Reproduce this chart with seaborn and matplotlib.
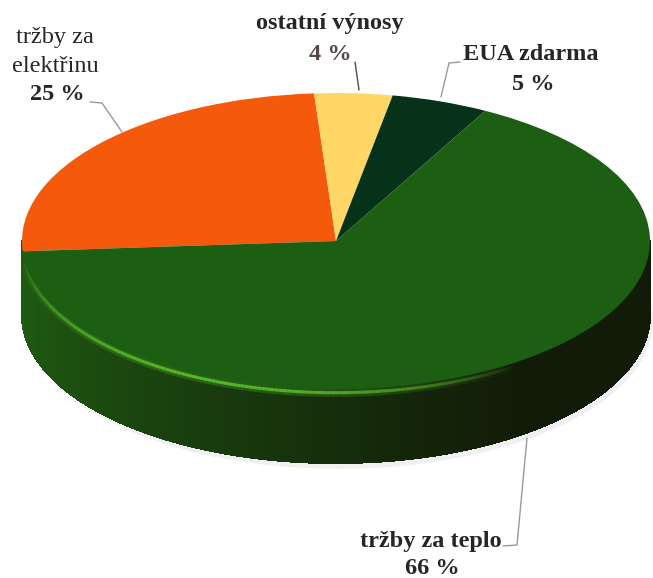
import numpy as np
import matplotlib
matplotlib.use("Agg")
import matplotlib.pyplot as plt
import seaborn as sns
from matplotlib.collections import PolyCollection, LineCollection
from matplotlib.colors import to_rgb
from matplotlib.patches import Ellipse

# data
labels = ["tržby za\nelektřinu", "ostatní výnosy", "EUA zdarma", "tržby za teplo"]
shares = [25, 4, 5, 66]
pct_labels = ["25 %", "4 %", "5 %", "66 %"]
colors = ["#F55A0C", "#FED766", "#06321A", "#1C5F13"]

W, H = 653, 578
cx, cy = 336, 241      # centre of the top face in pixels (from top-left)
rx, ry = 314, 148      # half axes of the top face in pixels
depth = 0.5            # thickness of the disc (in y units)

sns.set_style("white")
plt.rcParams['font.family'] = 'serif'
plt.rcParams['font.serif'] = ['Liberation Serif', 'DejaVu Serif']

fig = plt.figure(figsize=(W / 100, H / 100), dpi=100)
ax = fig.add_axes([0, 0, 1, 1])


def px(x, y):
    return x / W, 1 - y / H


# soft shadow under the disc
ax.add_patch(Ellipse((0.01, -depth - 0.04), 2.0, 2.0, color="#e6e6ee", alpha=0.6, lw=0, zorder=0))

# side wall, shaded from green (left) to almost black (right)
th = np.radians(np.linspace(180, 360, 241))
c_left = np.array(to_rgb("#1F5C12"))
c_right = np.array(to_rgb("#121A08"))
polys, cols = [], []
for t0, t1 in zip(th[:-1], th[1:]):
    polys.append([(np.cos(t0), np.sin(t0)), (np.cos(t1), np.sin(t1)),
                  (np.cos(t1), np.sin(t1) - depth), (np.cos(t0), np.sin(t0) - depth)])
    f = np.clip(((np.cos(t0) + 1) / 2) ** 0.7 * 1.15, 0, 1)
    cols.append(c_left * (1 - f) + c_right * f)
ax.add_collection(PolyCollection(polys, facecolors=cols, edgecolors=cols, linewidths=0.8,
                                 antialiased=False, zorder=1))

# light rim along the front edge
ht = np.radians(np.linspace(186, 305, 150))
hx, hy = np.cos(ht), np.sin(ht) - 0.025
segs = [[(hx[i], hy[i]), (hx[i + 1], hy[i + 1])] for i in range(len(ht) - 1)]
a = np.sin(np.linspace(0, np.pi, len(segs))) ** 0.8
rim = np.array(to_rgb("#56B82A"))
ax.add_collection(LineCollection(segs, colors=[(*rim, v * 0.3) for v in a], linewidths=6, zorder=1.5))
ax.add_collection(LineCollection(segs, colors=[(*rim, v) for v in a], linewidths=2.2, zorder=1.6))

# top face
wedges, _ = ax.pie(shares, colors=colors, startangle=184, counterclock=False,
                   radius=1, center=(0, 0), wedgeprops=dict(linewidth=0))
for w in wedges:
    w.set_zorder(2)

ax.set_aspect('auto')
ax.set_xlim(-cx / rx, (W - cx) / rx)
ax.set_ylim(-(H - cy) / ry, cy / ry)
ax.axis('off')

# labels
dark = "#262626"
fs = 17.5
fig.text(*px(55, 37), "tržby za", ha='center', va='center', fontsize=fs, color=dark,
         family='Liberation Serif')
fig.text(*px(55, 66), "elektřinu", ha='center', va='center', fontsize=fs, color=dark,
         family='Liberation Serif')
fig.text(*px(57, 95), pct_labels[0], ha='center', va='center', fontsize=fs, color=dark, weight='bold')

fig.text(*px(330, 24), labels[1], ha='center', va='center', fontsize=fs, color=dark, weight='bold')
fig.text(*px(330, 55), pct_labels[1], ha='center', va='center', fontsize=fs, color="#5A4747", weight='bold')

fig.text(*px(531, 54), labels[2], ha='center', va='center', fontsize=fs, color=dark, weight='bold')
fig.text(*px(533, 85), pct_labels[2], ha='center', va='center', fontsize=fs, color=dark, weight='bold')

fig.text(*px(431, 541), labels[3], ha='center', va='center', fontsize=fs, color=dark, weight='bold')
fig.text(*px(432, 568), pct_labels[3], ha='center', va='center', fontsize=fs, color=dark, weight='bold')

# leader lines
leaders = [
    ([(90, 102), (102, 103), (122, 132)], "#9A9A9A"),
    ([(355, 62), (359, 90)], "#5A4747"),
    ([(460, 62), (449, 63), (441, 97)], "#9A9A9A"),
    ([(503, 546), (517, 545), (527, 438)], "#9A9A9A"),
]
for pts, c in leaders:
    xs, ys = zip(*[px(x, y) for x, y in pts])
    fig.add_artist(plt.Line2D(xs, ys, color=c, lw=1.0, transform=fig.transFigure))

fig.savefig("out.png", dpi=100)
